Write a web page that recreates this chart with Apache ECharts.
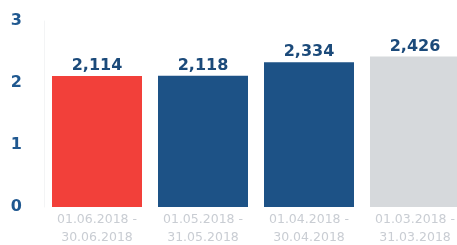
<!DOCTYPE html>
<html>
<head>
<meta charset="utf-8">
<script src="https://cdn.jsdelivr.net/npm/echarts@6/dist/echarts.min.js"></script>
<style>
  html, body { margin: 0; padding: 0; background: #fff; }
  #chart { width: 457px; height: 245px; }
</style>
</head>
<body>
<div id="chart"></div>
<script>
// Zeiträume (x-Achse)
const categories = [
  '01.06.2018 -\n30.06.2018',
  '01.05.2018 -\n31.05.2018',
  '01.04.2018 -\n30.04.2018',
  '01.03.2018 -\n31.03.2018'
]
// Werte je Zeitraum
const values = [2.114, 2.118, 2.334, 2.426]
const barColors = ['#f2403a', '#1d5286', '#1d5286', '#d6d9dc']
// y-Achse 0..3
const yTicks = [0, 1, 2, 3]

const myChart = echarts.init(document.getElementById('chart'))

const options = {
  animation: false,
  grid: {
    top: 21,
    bottom: 38,
    left: 44,
    right: -11,
    outerBoundsMode: 'none'
  },
  xAxis: {
    type: 'category',
    data: categories,
    axisLine: { show: false },
    axisTick: { show: false },
    axisLabel: {
      interval: 0,
      color: '#c9cdd3',
      fontFamily: 'DejaVu Sans',
      fontSize: 12.5,
      lineHeight: 18,
      margin: 4
    }
  },
  yAxis: {
    type: 'value',
    min: yTicks[0],
    max: yTicks[yTicks.length - 1],
    interval: 1,
    splitLine: { show: false },
    axisLine: { show: true, lineStyle: { color: '#f3f4f5' } },
    axisTick: { show: false },
    axisLabel: {
      color: '#1f5890',
      fontFamily: 'DejaVu Sans',
      fontWeight: 'bold',
      fontSize: 16,
      margin: 22
    }
  },
  series: [{
    type: 'bar',
    barWidth: 90,
    data: values.map((v, i) => ({
      value: v,
      itemStyle: { color: barColors[i] }
    })),
    label: {
      show: true,
      position: 'top',
      distance: 2,
      color: '#1b4a7a',
      fontFamily: 'DejaVu Sans',
      fontWeight: 'bold',
      fontSize: 16,
      formatter: (p) => p.value.toFixed(3).replace('.', ',')
    }
  }]
}

myChart.setOption(options)
</script>
</body>
</html>
